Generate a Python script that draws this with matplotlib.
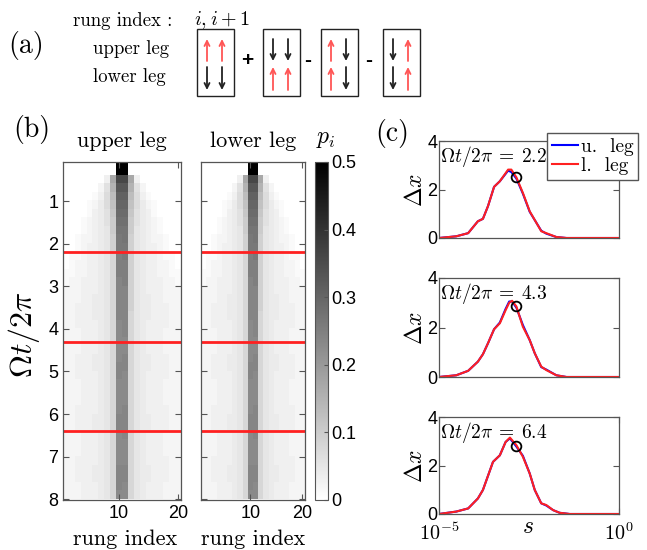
import numpy as np
import matplotlib
matplotlib.use('Agg')
import matplotlib.pyplot as plt
from matplotlib.patches import Rectangle

plt.rcParams['font.family'] = ['Liberation Sans', 'DejaVu Sans']
plt.rcParams['mathtext.fontset'] = 'cm'
SERIF = 'cmr10'
W, H = 647, 550

# ---- panel (a): spin configurations, (upper leg, lower leg) per box
configs = [('uu', 'dd'), ('dd', 'uu'), ('ud', 'ud'), ('du', 'du')]
signs = ['+', '-', '-']

# ---- panel (b): p_i in percent, rows t = 0..8 step 0.2, columns rung 1..20
p_upper = np.array([
    [0, 0, 0, 0, 0, 0, 0, 0, 0, 50, 50, 0, 0, 0, 0, 0, 0, 0, 0, 0],
    [0, 0, 0, 0, 0, 0, 0, 0, 0, 50, 50, 0, 0, 0, 0, 0, 0, 0, 0, 0],
    [0, 0, 0, 0, 0, 0, 0, 3, 17, 36, 36, 17, 3, 0, 0, 0, 0, 0, 0, 0],
    [0, 0, 0, 0, 0, 0, 2, 6, 15, 33, 33, 15, 6, 2, 0, 0, 0, 0, 0, 0],
    [0, 0, 0, 0, 0, 1, 3, 7, 13, 31, 31, 13, 7, 3, 1, 0, 0, 0, 0, 0],
    [0, 0, 0, 0, 1, 2, 4, 7, 12, 30, 30, 12, 7, 4, 2, 1, 0, 0, 0, 0],
    [0, 0, 0, 0, 1, 3, 4, 6, 11, 29, 29, 11, 6, 4, 3, 1, 0, 0, 0, 0],
    [0, 0, 0, 1, 2, 3, 4, 6, 10, 28, 28, 10, 6, 4, 3, 2, 1, 0, 0, 0],
    [0, 0, 0, 1, 2, 3, 4, 5, 10, 27, 27, 10, 5, 4, 3, 2, 1, 0, 0, 0],
    [0, 0, 1, 2, 2, 3, 4, 5, 9, 26, 27, 9, 5, 4, 3, 2, 2, 1, 0, 0],
    [0, 0, 1, 2, 3, 3, 4, 5, 9, 26, 26, 9, 5, 4, 3, 3, 2, 1, 0, 0],
    [0, 1, 1, 2, 3, 3, 4, 5, 8, 25, 26, 9, 5, 4, 3, 3, 2, 1, 1, 0],
    [0, 1, 2, 2, 3, 3, 4, 5, 8, 25, 25, 9, 5, 4, 3, 3, 2, 2, 1, 0],
    [1, 1, 2, 2, 3, 3, 4, 5, 8, 25, 25, 9, 5, 4, 3, 3, 2, 2, 1, 1],
    [1, 2, 2, 3, 3, 3, 4, 5, 8, 24, 25, 9, 5, 4, 3, 3, 3, 2, 2, 1],
    [2, 2, 2, 3, 3, 3, 4, 5, 8, 24, 24, 9, 5, 4, 3, 3, 3, 2, 2, 2],
    [2, 2, 2, 3, 3, 4, 4, 5, 8, 24, 24, 9, 5, 4, 4, 3, 3, 2, 2, 2],
    [2, 2, 3, 3, 3, 4, 4, 5, 8, 24, 24, 9, 5, 4, 4, 3, 3, 3, 2, 2],
    [2, 2, 3, 3, 3, 4, 4, 5, 8, 24, 24, 8, 5, 4, 4, 3, 3, 3, 2, 2],
    [2, 2, 3, 3, 3, 3, 4, 5, 8, 23, 24, 8, 5, 4, 3, 3, 3, 3, 2, 2],
    [2, 2, 2, 3, 3, 3, 4, 5, 8, 23, 24, 8, 5, 4, 3, 3, 3, 2, 2, 2],
    [2, 2, 2, 3, 3, 3, 4, 5, 8, 23, 23, 8, 5, 4, 3, 3, 3, 2, 2, 2],
    [2, 2, 2, 3, 3, 3, 4, 5, 8, 23, 23, 8, 5, 4, 3, 3, 3, 2, 2, 2],
    [2, 2, 3, 3, 3, 4, 4, 5, 8, 23, 24, 8, 5, 4, 4, 3, 3, 3, 2, 2],
    [2, 2, 3, 3, 3, 4, 4, 5, 8, 24, 24, 8, 5, 4, 4, 3, 3, 3, 2, 2],
    [2, 2, 3, 3, 3, 3, 4, 5, 8, 24, 23, 8, 5, 4, 3, 3, 3, 3, 2, 2],
    [2, 2, 2, 3, 3, 3, 4, 5, 8, 23, 23, 8, 5, 4, 3, 3, 3, 2, 2, 2],
    [2, 2, 2, 3, 3, 3, 4, 5, 8, 23, 23, 8, 5, 4, 3, 3, 3, 2, 2, 2],
    [2, 2, 2, 3, 3, 3, 4, 5, 8, 23, 23, 8, 5, 4, 3, 3, 3, 2, 2, 2],
    [2, 2, 3, 3, 3, 3, 4, 5, 8, 23, 24, 8, 5, 4, 3, 3, 3, 3, 2, 2],
    [2, 2, 3, 3, 3, 4, 4, 5, 8, 24, 24, 8, 5, 4, 4, 3, 3, 3, 2, 2],
    [2, 2, 3, 3, 3, 4, 4, 5, 8, 24, 24, 8, 5, 4, 4, 3, 3, 3, 2, 2],
    [2, 2, 2, 3, 3, 3, 4, 5, 8, 23, 24, 8, 5, 4, 3, 3, 3, 2, 2, 2],
    [2, 2, 2, 3, 3, 3, 4, 5, 8, 23, 23, 8, 5, 4, 3, 3, 3, 2, 2, 2],
    [2, 2, 2, 3, 3, 3, 4, 5, 8, 23, 23, 8, 5, 4, 3, 3, 3, 2, 2, 2],
    [2, 2, 3, 3, 3, 3, 4, 5, 8, 23, 23, 8, 5, 4, 3, 3, 3, 3, 2, 2],
    [2, 2, 3, 3, 3, 4, 4, 5, 8, 24, 24, 8, 5, 4, 4, 3, 3, 3, 2, 2],
    [2, 2, 3, 3, 3, 4, 4, 5, 8, 24, 24, 8, 5, 4, 4, 3, 3, 3, 2, 2],
    [2, 2, 2, 3, 3, 3, 4, 5, 8, 24, 23, 8, 5, 4, 3, 3, 3, 2, 2, 2],
    [2, 2, 2, 3, 3, 3, 4, 5, 8, 23, 23, 8, 5, 4, 3, 3, 3, 2, 2, 2],
]) / 100.0
p_lower = p_upper  # both legs look the same
cut_times = [2.2, 4.3, 6.4]

# ---- panel (c): Delta x vs log10(s)
logs_1 = [-5, -4.52, -4.19, -3.92, -3.78, -3.64, -3.47, -3.31, -3.08, -2.99, -2.85, -2.67, -2.48, -2.16, -2.02, -1.74, -1.46, 0]
dx_l_1 = [0, 0.07, 0.2, 0.69, 0.79, 1.31, 2.11, 2.34, 2.82, 2.82, 2.5, 1.86, 1.1, 0.28, 0.2, 0.04, 0, 0]
dx_u_1 = [0, 0.07, 0.2, 0.69, 0.79, 1.31, 2.11, 2.34, 2.78, 2.72, 2.45, 1.83, 1.08, 0.3, 0.18, 0.04, 0, 0]
logs_2 = [-5, -4.52, -4.19, -3.92, -3.78, -3.64, -3.47, -3.31, -3.15, -3.05, -2.97, -2.85, -2.67, -2.48, -2.34, -2.16, -2.02, -1.74, -1.46, 0]
dx_l_2 = [0, 0.07, 0.25, 0.62, 0.92, 1.36, 1.93, 2.17, 2.7, 3.0, 3.08, 2.85, 2.03, 1.49, 0.96, 0.42, 0.28, 0.07, 0, 0]
dx_u_2 = [0, 0.07, 0.25, 0.62, 0.92, 1.36, 1.93, 2.2, 2.75, 3.05, 3.05, 2.8, 2.1, 1.49, 0.96, 0.4, 0.3, 0.07, 0, 0]
logs_3 = [-5, -4.52, -4.19, -3.92, -3.78, -3.5, -3.31, -3.15, -3.03, -2.85, -2.67, -2.48, -2.34, -2.16, -2.02, -1.83, -1.65, -1.37, 0]
dx_l_3 = [0, 0.1, 0.23, 0.64, 0.99, 2.15, 2.42, 2.97, 3.15, 2.84, 2.36, 1.67, 0.99, 0.44, 0.37, 0.16, 0.05, 0, 0]
dx_u_3 = [0, 0.1, 0.23, 0.64, 0.99, 2.15, 2.42, 2.97, 3.12, 2.78, 2.4, 1.67, 0.99, 0.44, 0.35, 0.16, 0.05, 0, 0]
marks = [(-2.85, 2.52), (-2.85, 2.85), (-2.85, 2.82)]

RED = '#ff2020'
EDGE = '#555555'


def box(x0, y0, x1, y1):
    return [x0 / W, 1 - y1 / H, (x1 - x0) / W, (y1 - y0) / H]


def fpos(x, y):
    return x / W, 1 - y / H


def style_axes(ax):
    for s in ax.spines.values():
        s.set_color(EDGE)
        s.set_linewidth(0.9)
    ax.tick_params(direction='in', colors=EDGE, labelcolor='black', length=4,
                   top=True, right=True, labelsize=13)


fig = plt.figure(figsize=(W / 100, H / 100), dpi=100)

# ---------------- (a)
ax_a = fig.add_axes([0, 1 - 105 / H, 1, 105 / H])
ax_a.set_xlim(0, W)
ax_a.set_ylim(105, 0)
ax_a.axis('off')
ax_a.text(8, 45, '(a)', family=SERIF, fontsize=20, va='center', ha='left')
ax_a.text(73, 21, 'rung index :', family=SERIF, fontsize=13.5, va='center')
ax_a.text(194, 20, r'$i, i+1$', fontsize=14.5, va='center')
ax_a.text(93, 49, 'upper leg', family=SERIF, fontsize=13.5, va='center')
ax_a.text(93, 77, 'lower leg', family=SERIF, fontsize=13.5, va='center')
box_left = [197, 263, 321, 383]
for bx, (up, lo) in zip(box_left, configs):
    ax_a.add_patch(Rectangle((bx, 29), 37, 67, fill=False, ec='#222222', lw=1.0))
    for row, (ya, yb) in zip((up, lo), ((39, 61), (67, 90))):
        for k, spin in enumerate(row):
            x = bx + 10 + 15 * k
            if spin == 'u':
                ax_a.annotate('', xy=(x, ya), xytext=(x, yb),
                              arrowprops=dict(arrowstyle='->', color='#ff5555', lw=1.3,
                                              shrinkA=0, shrinkB=0, mutation_scale=9))
            else:
                ax_a.annotate('', xy=(x, yb), xytext=(x, ya),
                              arrowprops=dict(arrowstyle='->', color='#222222', lw=1.3,
                                              shrinkA=0, shrinkB=0, mutation_scale=9))
for sx, sg in zip([247, 308, 369], signs):
    ax_a.text(sx, 61, sg, fontsize=15, fontweight='bold', ha='center', va='center')

# ---------------- (b)
nrow = p_upper.shape[0]
t_end = 0.2 * nrow
ax_u = fig.add_axes(box(63, 162, 181, 500))
ax_l = fig.add_axes(box(201, 162, 305, 500))
for ax, data in ((ax_u, p_upper), (ax_l, p_lower)):
    im = ax.imshow(data, cmap='gray_r', vmin=0, vmax=0.5, aspect='auto',
                   interpolation='nearest', extent=[0.5, 20.5, t_end, 0])
    for tc in cut_times:
        ax.axhline(tc, color=RED, lw=2)
    ax.set_xlim(0.5, 20.5)
    ax.set_ylim(8.02, 0.08)
    ax.set_xticks([10, 20])
    ax.set_yticks(range(1, 9))
    style_axes(ax)
ax_l.set_yticklabels([])

cax = fig.add_axes(box(315, 162, 328, 500))
cb = fig.colorbar(im, cax=cax, ticks=[0, 0.1, 0.2, 0.3, 0.4, 0.5])
cb.ax.set_yticklabels(['0', '0.1', '0.2', '0.3', '0.4', '0.5'])
cb.outline.set_edgecolor(EDGE)
cb.ax.tick_params(direction='in', length=3, labelsize=13, colors=EDGE, labelcolor='black', pad=2)

fig.text(*fpos(32, 130), '(b)', family=SERIF, fontsize=20, ha='center', va='center')
fig.text(*fpos(122, 141), 'upper leg', family=SERIF, fontsize=16, ha='center', va='center')
fig.text(*fpos(253, 141), 'lower leg', family=SERIF, fontsize=16, ha='center', va='center')
fig.text(*fpos(326, 139), r'$p_i$', fontsize=17, ha='center', va='center')
fig.text(*fpos(24, 335), r'$\Omega t/2\pi$', fontsize=23, ha='center', va='center', rotation=90)
fig.text(*fpos(125, 539), 'rung index', family=SERIF, fontsize=16, ha='center', va='center')
fig.text(*fpos(253, 539), 'rung index', family=SERIF, fontsize=16, ha='center', va='center')

# ---------------- (c)
rows_c = [(141, 238), (278, 377), (417, 514)]
curves = [(logs_1, dx_u_1, dx_l_1), (logs_2, dx_u_2, dx_l_2), (logs_3, dx_u_3, dx_l_3)]
c_axes = []
for i, ((y0, y1), (ls, du, dl), tc, mk) in enumerate(zip(rows_c, curves, cut_times, marks)):
    ax = fig.add_axes(box(439, y0, 619, y1))
    s = 10.0 ** np.array(ls)
    ax.plot(s, du, color='#0000ff', lw=1.5, label='u.  leg')
    ax.plot(s, dl, color=RED, lw=1.5, label='l.  leg')
    ax.plot(10.0 ** mk[0], mk[1], 'o', mfc='none', mec='black', ms=7, mew=1.3)
    ax.set_xscale('log')
    ax.set_xlim(1e-5, 1)
    ax.set_ylim(0, 4)
    ax.set_yticks([0, 2, 4])
    style_axes(ax)
    ax.tick_params(axis='y', pad=1)
    ax.text(0.005, 0.97, r'$\Omega t/2\pi\:=\:%.1f$' % tc, transform=ax.transAxes,
            fontsize=14, ha='left', va='top')
    ax.set_ylabel(r'$\Delta x$', fontsize=17, labelpad=0)
    if i < 2:
        ax.set_xticks([])
        ax.xaxis.set_minor_locator(matplotlib.ticker.NullLocator())
    else:
        ax.set_xticks([1e-5, 1])
        ax.set_xticklabels([r'$\mathsf{10^{-5}}$', r'$\mathsf{10^{0}}$'])
        ax.tick_params(axis='x', which='major', labelsize=14.5, pad=6)
        ax.tick_params(axis='x', which='minor', direction='in', length=2, top=True, colors=EDGE)
    c_axes.append(ax)

leg = c_axes[0].legend(loc='upper right', bbox_to_anchor=(638 / W, 1 - 133 / H),
                       bbox_transform=fig.transFigure, prop={'family': SERIF, 'size': 14},
                       handlelength=1.3, handletextpad=0.15, borderpad=0.25, labelspacing=0.05,
                       borderaxespad=0, fancybox=False, framealpha=1)
leg.get_frame().set_edgecolor(EDGE)
fig.text(*fpos(392, 134), '(c)', family=SERIF, fontsize=20, ha='center', va='center')
fig.text(*fpos(528, 527), r'$s$', fontsize=17, ha='center', va='center')

fig.savefig('out.png', dpi=100)
